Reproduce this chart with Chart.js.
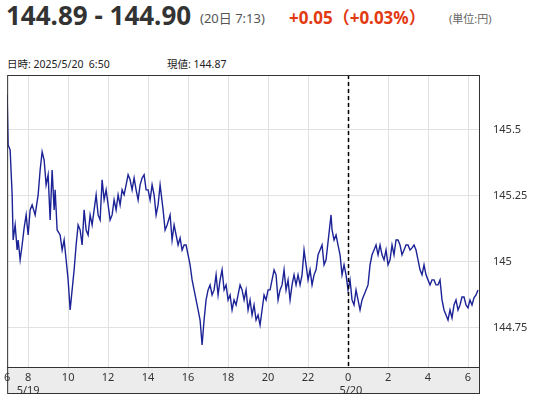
<!DOCTYPE html>
<html>
<head>
<meta charset="utf-8">
<script src="https://cdn.jsdelivr.net/npm/chart.js@4"></script>
<style>
  body { margin: 0; width: 539px; height: 400px; position: relative; background: #fff; font-family: "Noto Sans", "Noto Sans CJK JP", sans-serif; overflow: hidden; }
  .t { position: absolute; white-space: nowrap; }
  #wrap { position: absolute; left: 0; top: 0; width: 539px; height: 400px; }
</style>
</head>
<body>
<div class="t" style="left:6px;top:-3px;font-size:26px;font-weight:bold;color:#333;">144.89 - 144.90</div>
<div class="t" style="left:200px;top:8px;font-size:13px;color:#555;">(20日 7:13)</div>
<div class="t" style="left:289px;top:4px;font-size:17px;font-weight:bold;color:#e23a12;font-family:'Noto Sans','Noto Sans CJK JP';">+0.05（+0.03%）</div>
<div class="t" style="left:449px;top:10px;font-size:11px;color:#666;">(単位:円)</div>
<div class="t" style="left:7px;top:56px;font-size:10.5px;color:#222;">日時: 2025/5/20&nbsp; 6:50</div>
<div class="t" style="left:167px;top:56px;font-size:10.5px;color:#222;">現値: 144.87</div>
<div id="wrap"><canvas id="chart"></canvas></div>
<script>
// minutes since 5/19 07:00
const minutes = [-3,0,6,12,15,21,27,30,36,42,48,54,60,66,72,81,90,96,102,108,114,120,126,132,138,141,147,156,162,168,174,180,186,192,198,204,210,216,222,228,234,240,246,252,264,270,276,282,288,294,300,306,312,318,324,330,336,342,348,354,360,366,372,378,384,390,396,402,408,414,420,426,432,438,444,450,456,465,471,477,486,492,498,504,510,516,522,528,534,546,552,564,570,576,582,588,594,600,606,612,618,624,630,636,642,648,654,660,666,672,678,684,690,696,702,708,714,720,726,732,738,744,750,756,762,768,774,780,786,792,798,804,810,816,822,828,834,840,846,852,858,864,870,876,882,888,894,900,906,912,918,924,930,936,942,948,954,969,972,978,984,990,996,1002,1008,1014,1020,1026,1032,1038,1044,1050,1056,1062,1068,1074,1080,1086,1092,1098,1104,1110,1116,1122,1128,1134,1140,1146,1152,1158,1164,1170,1176,1182,1188,1194,1200,1206,1212,1218,1224,1230,1236,1242,1248,1254,1260,1266,1272,1278,1284,1290,1296,1302,1308,1314,1320,1326,1332,1338,1344,1350,1356,1362,1368,1374,1380,1386,1392,1398,1404,1410];
const prices = [145.633,145.443,145.424,145.254,145.083,145.140,145.045,145.083,145.008,145.064,145.129,145.178,145.102,145.197,145.216,145.178,145.254,145.348,145.417,145.386,145.292,145.330,145.159,145.348,145.197,145.273,145.121,145.102,145.045,145.083,145.008,144.932,144.818,144.894,144.970,145.064,145.140,145.121,145.064,145.197,145.121,145.102,145.178,145.140,145.254,145.178,145.159,145.311,145.235,145.273,145.216,145.159,145.178,145.235,145.197,145.254,145.216,145.273,145.254,145.292,145.330,145.311,145.273,145.318,145.273,145.235,145.292,145.318,145.330,145.273,145.273,145.235,145.292,145.254,145.178,145.216,145.292,145.197,145.121,145.140,145.178,145.083,145.140,145.102,145.064,145.091,145.045,145.064,145.064,144.989,144.932,144.856,144.818,144.780,144.686,144.780,144.856,144.894,144.913,144.875,144.894,144.951,144.875,144.932,144.970,144.894,144.913,144.856,144.875,144.818,144.856,144.837,144.875,144.913,144.894,144.856,144.894,144.818,144.856,144.799,144.837,144.780,144.799,144.761,144.818,144.875,144.856,144.894,144.894,144.932,144.970,144.951,144.856,144.894,144.913,144.970,144.894,144.932,144.856,144.913,144.951,144.913,144.951,144.913,144.951,145.045,144.989,144.932,144.970,144.913,144.951,144.970,145.027,145.045,145.064,144.989,145.008,145.178,145.121,145.083,145.102,145.064,145.027,144.951,144.989,144.951,144.894,144.932,144.856,144.837,144.894,144.856,144.818,144.856,144.875,144.894,144.913,144.989,145.027,145.045,145.064,145.027,145.064,145.027,145.008,145.045,144.989,145.008,145.064,145.027,145.083,145.083,145.064,145.027,145.045,145.064,145.064,145.045,145.053,145.064,145.045,145.008,144.970,144.951,144.989,144.951,144.932,144.913,144.932,144.932,144.913,144.913,144.932,144.856,144.818,144.799,144.780,144.818,144.788,144.837,144.856,144.818,144.837,144.867,144.867,144.837,144.826,144.856,144.837,144.864,144.875,144.894];

const xTicks = [-3, 60, 180, 300, 420, 540, 660, 780, 900, 1020, 1140, 1260, 1380];
const xLabels = ['6', ['8', '5/19'], '10', '12', '14', '16', '18', '20', '22', ['0', '  5/20'], '2', '4', '6'];
const yTicks = [144.75, 145, 145.25, 145.5];

const points = minutes.map((m, i) => ({ x: m, y: prices[i] }));

const framePlugin = {
    id: 'frame',
    beforeDraw(chart) {
        const { ctx, chartArea: a } = chart;
        ctx.save();
        ctx.fillStyle = '#ececec';
        ctx.fillRect(a.left, a.bottom, a.right - a.left, 26);
        ctx.strokeStyle = '#333';
        ctx.lineWidth = 1;
        ctx.strokeRect(a.left + 0.5, a.bottom + 0.5, a.right - a.left, 26);
        ctx.restore();
    },
    afterDatasetsDraw(chart) {
        const { ctx, chartArea: a } = chart;
        const x = Math.round(chart.scales.x.getPixelForValue(1020)) + 0.5;
        ctx.save();
        ctx.strokeStyle = '#000';
        ctx.lineWidth = 1.5;
        ctx.setLineDash([4, 3]);
        ctx.beginPath();
        ctx.moveTo(x, a.top);
        ctx.lineTo(x, a.bottom);
        ctx.stroke();
        ctx.setLineDash([]);
        ctx.strokeStyle = '#333';
        ctx.lineWidth = 1;
        ctx.strokeRect(a.left + 0.5, a.top + 0.5, a.right - a.left, a.bottom - a.top);
        ctx.restore();
    }
};

new Chart(document.getElementById('chart'), {
    type: 'line',
    data: {
        datasets: [{
            data: points,
            borderColor: '#1c2396',
            borderWidth: 1.4,
            pointRadius: 0,
            tension: 0
        }]
    },
    options: {
        responsive: true,
        maintainAspectRatio: false,
        animation: false,
        layout: { padding: { top: 75, left: 6, right: 0, bottom: 0 } },
        plugins: { legend: { display: false }, tooltip: { enabled: false } },
        scales: {
            x: {
                type: 'linear',
                min: -3,
                max: 1413,
                afterBuildTicks: s => { s.ticks = xTicks.map(v => ({ value: v })); },
                afterFit: s => { s.height = 33; },
                grid: { color: '#e2e2e2', drawTicks: false },
                border: { display: false },
                ticks: {
                    autoSkip: false,
                    maxRotation: 0,
                    padding: 4,
                    color: '#333',
                    font: { size: 11, family: 'Noto Sans' },
                    callback: (v, i) => xLabels[i]
                }
            },
            y: {
                position: 'right',
                min: 144.602,
                max: 145.708,
                afterBuildTicks: s => { s.ticks = yTicks.map(v => ({ value: v })); },
                afterFit: s => { s.width = 60; },
                grid: { color: '#e2e2e2', drawTicks: false },
                border: { display: false },
                ticks: {
                    padding: 14,
                    color: '#333',
                    font: { size: 11, family: 'Noto Sans' },
                    callback: v => String(v)
                }
            }
        }
    },
    plugins: [framePlugin]
});
</script>
</body>
</html>
